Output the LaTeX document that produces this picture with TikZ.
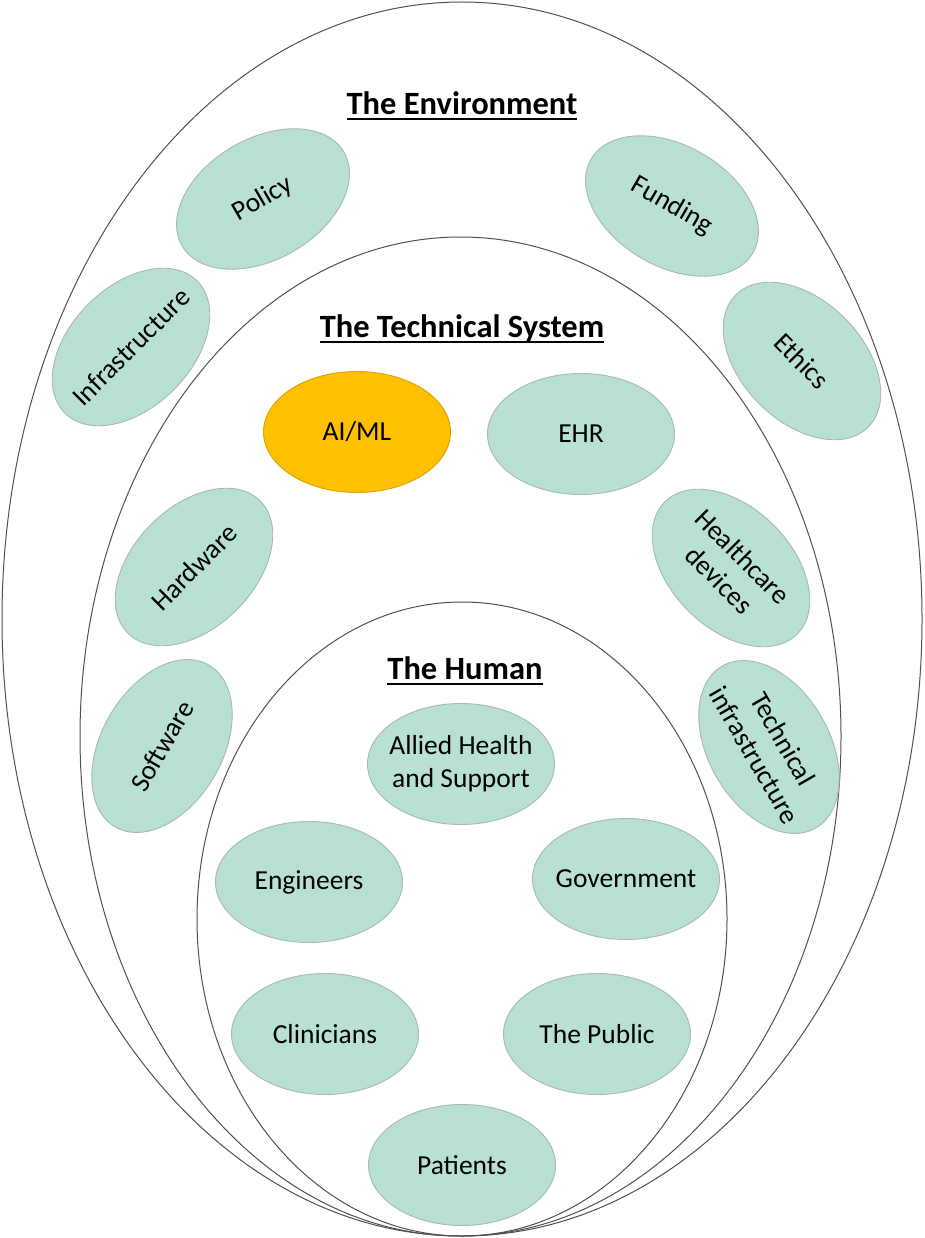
\documentclass[tikz,border=0pt]{standalone}
\usepackage{fontspec}
\setmainfont{Carlito}
\usetikzlibrary{shapes.geometric}
\definecolor{bubble}{HTML}{B8E1D2}
\definecolor{bubbleline}{HTML}{A8B8B2}
\definecolor{aiorange}{HTML}{FFC000}
\definecolor{ringline}{HTML}{505050}
\newcommand\myul[1]{\setbox0\hbox{#1}\rlap{\rule[-6pt]{\wd0}{2.4pt}}\box0}
\tikzset{
  ring/.style={draw=ringline, line width=1pt, ellipse},
  bubble/.style={ellipse, draw=bubbleline, line width=0.9pt, fill=bubble,
    minimum width=187pt, minimum height=121pt, inner sep=0pt},
  aibubble/.style={bubble, fill=aiorange, draw=aiorange!85!black},
  lbl/.style={inner sep=0pt, align=center, font=\fontsize{27.5}{33}\selectfont},
  ttl/.style={font=\fontsize{32.5}{38}\selectfont\bfseries, inner sep=0pt}
}
% #1 shape style, #2 name, #3 position, #4 rotation, #5 text
\newcommand\bub[5]{%
  \node[#1, rotate=#4] (#2) at (#3) {};
  \node[lbl, rotate=#4] (#2-text) at (#2.center) {#5};}
\begin{document}
\begin{tikzpicture}[x=1pt,y=-1pt]
\useasboundingbox (0,0) rectangle (925,1238);
% rings
\node[ring, minimum width=920pt, minimum height=1234pt] (env) at (462,619) {};
\node[ring, minimum width=761pt, minimum height=999pt] (tech) at (460.5,736.5) {};
\node[ring, minimum width=530pt, minimum height=634pt] (human) at (462,919) {};
% titles
\node[ttl] (tenv) at (462,106) {\myul{The Environment}};
\node[ttl] (ttech) at (462,329) {\myul{The Technical System}};
\node[ttl] (thum) at (465,671) {\myul{The Human}};
% environment
\bub{bubble}{policy}{263,199}{30}{Policy}
\bub{bubble}{funding}{672,206}{-30}{Funding}
\bub{bubble}{infra}{131,347}{45}{Infrastructure}
\bub{bubble}{ethics}{802,361}{-45}{Ethics}
% technical system
\bub{aibubble}{aiml}{357,432}{0}{AI/ML}
\bub{bubble}{ehr}{581,434}{0}{EHR}
\bub{bubble}{hardware}{194,567}{45}{Hardware}
\bub{bubble}{devices}{731,568}{-45}{Healthcare\\devices}
\bub{bubble}{software}{162,746}{60}{Software}
\bub{bubble}{techinfra}{769,747}{-60}{Technical\\infrastructure}
% human
\bub{bubble}{allied}{461,764}{0}{Allied Health\\and Support}
\bub{bubble}{engineers}{309,882}{0}{Engineers}
\bub{bubble}{government}{626,879}{0}{Government}
\bub{bubble}{clinicians}{325,1034}{0}{Clinicians}
\bub{bubble}{public}{597,1034}{0}{The Public}
\bub{bubble}{patients}{462,1165}{0}{Patients}
\end{tikzpicture}
\end{document}
